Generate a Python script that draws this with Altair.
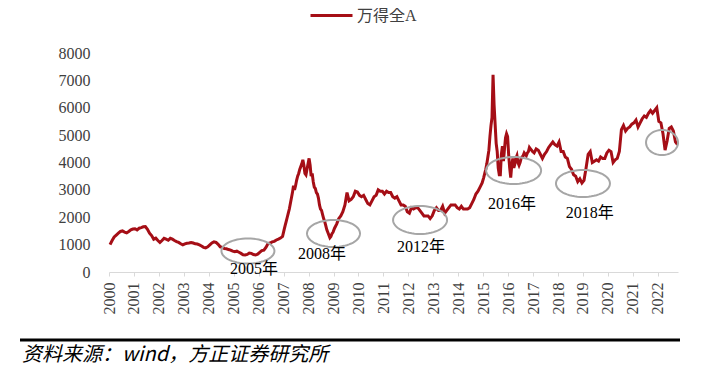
import math
import altair as alt
import pandas as pd

# ---------------- data ----------------
# one list per year; values are evenly spaced within the year
years = list(range(2000, 2023))
v2000 = [1000, 1150, 1280, 1350, 1420, 1480, 1500, 1460, 1430, 1480, 1540, 1570]
v2001 = [1580, 1540, 1600, 1620, 1650, 1660, 1560, 1420, 1330, 1200, 1240, 1150]
v2002 = [1080, 1150, 1230, 1200, 1160, 1230, 1200, 1150, 1110, 1080, 1030, 990]
v2003 = [1030, 1050, 1060, 1080, 1060, 1030, 1020, 990, 950, 900, 880, 920]
v2004 = [990, 1060, 1100, 1080, 1010, 920, 900, 860, 850, 820, 800, 760]
v2005 = [740, 760, 720, 680, 630, 620, 640, 690, 680, 640, 620, 650]
v2006 = [720, 780, 800, 900, 1040, 1060, 1100, 1120, 1170, 1200, 1240, 1300]
v2007 = [1550, 1700, 1850, 2000, 2150, 2300, 2500, 2700, 2900, 3150, 3000, 3150,
         3350, 3500, 3600, 3750, 3850, 3950, 4100, 3900, 3600, 3550, 3750, 3950]
v2008 = [4150, 3900, 3500, 3600, 3300, 3100, 3050, 2900, 2850, 2700, 2450, 2300,
         2250, 2100, 1950, 1850, 1700, 1550, 1450, 1350, 1250, 1300, 1400, 1450]
v2009 = [1600, 1750, 1950, 2050, 2200, 2450, 2900, 2600, 2650, 2750, 2950, 2920]
v2010 = [2800, 2750, 2800, 2650, 2500, 2450, 2600, 2750, 2800, 3000, 2950, 2950]
v2011 = [2850, 2950, 2900, 2900, 2750, 2700, 2750, 2600, 2450, 2450, 2400, 2200]
v2012 = [2150, 2350, 2300, 2350, 2350, 2250, 2150, 2050, 2050, 2050, 1950, 2050]
v2013 = [2250, 2350, 2250, 2250, 2400, 2150, 2250, 2350, 2450, 2450, 2450, 2350]
v2014 = [2300, 2400, 2300, 2300, 2300, 2350, 2500, 2650, 2850, 2950, 3100, 3250]
v2015 = [3450, 3600, 3750, 3950, 4200, 4450, 4950, 5350, 5650, 7200, 6100, 5400,
         4700, 4400, 3800, 3550, 3550, 4300, 4600, 4050, 4500, 4900, 5050, 4950]
v2016 = [4300, 3800, 3450, 3900, 4150, 3800, 3950, 4150, 4250, 4000, 3900, 4000,
         4150, 4200, 4250, 4350, 4300, 4250, 4350, 4400, 4550, 4500, 4450, 4400]
v2017 = [4350, 4500, 4450, 4300, 4150, 4300, 4400, 4550, 4650, 4750, 4650, 4600]
v2018 = [4750, 4400, 4400, 4200, 4150, 3850, 3750, 3550, 3500, 3300, 3400, 3250]
v2019 = [3350, 3800, 4300, 4400, 4000, 4050, 4100, 4050, 4200, 4150, 4150, 4350]
v2020 = [4450, 4400, 4000, 4100, 4150, 4400, 5200, 5350, 5150, 5250, 5300, 5400]
v2021 = [5450, 5550, 5300, 5450, 5600, 5700, 5650, 5800, 5900, 5800, 5900, 6000]
v2022 = [5500, 5450, 5050, 4450, 4800, 5250, 5300, 5150, 4750, 4650]
yearly = [v2000, v2001, v2002, v2003, v2004, v2005, v2006, v2007, v2008, v2009,
          v2010, v2011, v2012, v2013, v2014, v2015, v2016, v2017, v2018, v2019,
          v2020, v2021, v2022]
series_name = "万得全A"

# highlighted periods (ellipse centres, in data units)
ell_t = [2005.57, 2009.0, 2012.47, 2016.22, 2019.0, 2022.17]
ell_v = [767, 1406, 1900, 3708, 3233, 4730]
# annotation labels
lab_text = ["2005年", "2008年", "2012年", "2016年", "2018年"]
lab_t = [2005.81, 2008.54, 2012.51, 2016.16, 2019.27]
lab_v = [110, 658, 931, 2484, 2173]

tick_years = list(range(2000, 2023))
y_ticks = list(range(0, 8001, 1000))
source_text = "资料来源：wind，方正证券研究所"

# ---------------- styles ----------------
RED = "#a50e16"
GRAY = "#a6a6a6"
SERIF = "Liberation Serif, Noto Sans CJK SC"
ell_w = [53, 53, 54, 55, 54, 32]
ell_h = [25, 27, 28, 27, 27, 25]


def ellipse_path(ratio, n=60):
    pts = []
    for k in range(n):
        a = 2 * math.pi * k / n
        pts.append(f"{math.cos(a):.4f} {ratio * math.sin(a):.4f}")
    return "M " + " L ".join(pts) + " Z"


rows = []
for y, vals in zip(years, yearly):
    per = 24 if len(vals) == 24 else 12
    for k, v in enumerate(vals):
        rows.append({"t": y + (k + 0.5) / per, "v": v, "s": series_name})
df = pd.DataFrame(rows)

xs = alt.Scale(domain=[2000, 2022.81], nice=False, zero=False)
ys = alt.Scale(domain=[0, 8000], nice=False)

x_axis = alt.Axis(values=tick_years, format="d", labelAngle=270, title=None,
                  grid=False, domainColor="#d9d9d9", domainWidth=1,
                  tickColor="#d9d9d9", tickSize=4, labelPadding=6,
                  labelFont="Liberation Serif", labelFontSize=16,
                  labelColor="#404040", labelFlush=False, labelOverlap=False)
y_axis = alt.Axis(values=y_ticks, format="d", title=None, grid=False,
                  domain=False, ticks=False, tickSize=0, labelPadding=19,
                  labelFont="Liberation Serif", labelFontSize=16,
                  labelColor="#404040", labelOverlap=False, labelFlush=False)

line = alt.Chart(df).mark_line(strokeWidth=3, clip=False).encode(
    color=alt.Color("s:N", scale=alt.Scale(range=[RED]),
                    legend=alt.Legend(orient="none", legendX=200, legendY=-60,
                                      title=None, symbolType="stroke",
                                      symbolSize=1764, symbolStrokeWidth=3,
                                      symbolStrokeColor=RED,
                                      labelFont=SERIF, labelFontSize=16,
                                      labelColor="#404040", labelOffset=3,
                                      padding=0)),
)

layers = [line]
for i in range(len(ell_t)):
    edf = pd.DataFrame({"t": [ell_t[i]], "v": [ell_v[i]]})
    layers.append(
        alt.Chart(edf).mark_point(
            shape=ellipse_path(ell_h[i] / ell_w[i]), size=ell_w[i] ** 2,
            filled=False, color=GRAY, strokeWidth=2, opacity=1
        )
    )

ldf = pd.DataFrame({"t": lab_t, "v": lab_v, "label": lab_text})
labels = alt.Chart(ldf).mark_text(font=SERIF, fontSize=16, color="black",
                                  align="center", baseline="middle").encode(
    text="label:N")
layers.append(labels)

one = pd.DataFrame({"t": [2000.0], "v": [0]})
rule = alt.Chart(one).mark_rule(color="black", strokeWidth=3).encode(
    x=alt.value(-89), x2=alt.value(571), y=alt.value(287))
src = alt.Chart(one).mark_text(align="left", baseline="middle", fontSize=20,
                               fontStyle="italic", font="Noto Sans CJK SC",
                               color="black").encode(
    x=alt.value(-87), y=alt.value(302), text=alt.value(source_text))
layers += [rule, src]

chart = alt.layer(*layers).encode(
    x=alt.X("t:Q", scale=xs, axis=x_axis),
    y=alt.Y("v:Q", scale=ys, axis=y_axis),
).properties(
    width=569, height=219,
    autosize=alt.AutoSizeParams(type="none"),
    padding={"left": 101, "top": 45, "right": 20, "bottom": 98},
).configure_view(strokeWidth=0)

chart.save("out.html", embed_options={"renderer": "svg", "actions": False})
